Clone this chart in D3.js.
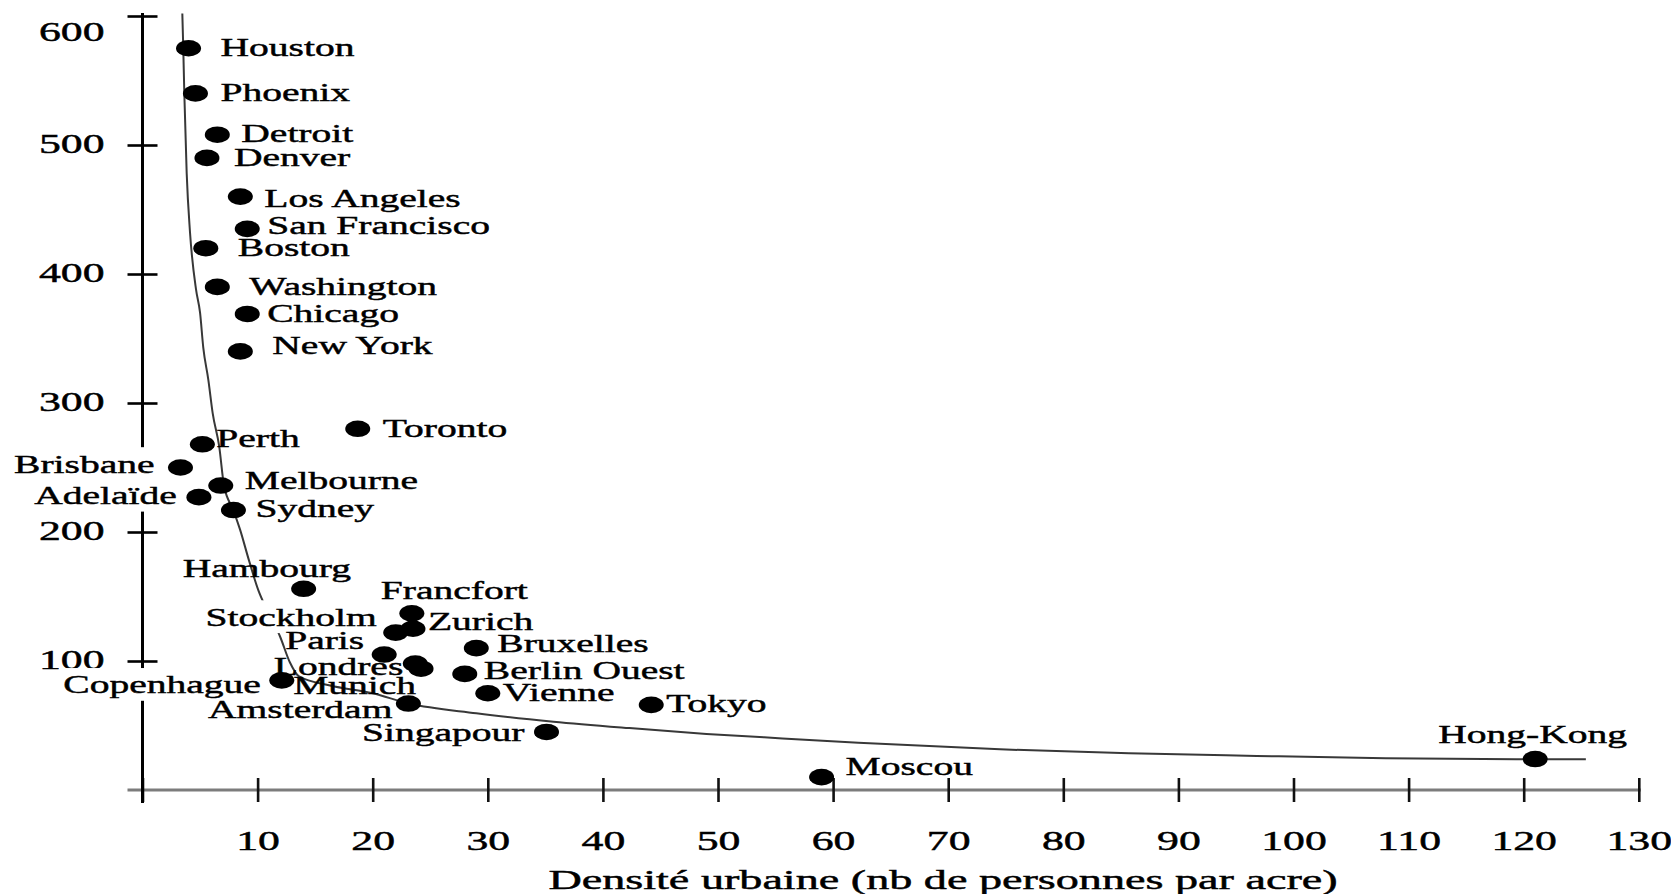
<!DOCTYPE html>
<html>
<head>
<meta charset="utf-8">
<script src="https://cdn.jsdelivr.net/npm/d3@7"></script>
<style>
  html, body { margin: 0; padding: 0; background: #fff; }
  svg { display: block; }
</style>
</head>
<body>
<svg id="chart" width="1671" height="894"></svg>
<script>
// Cities and their values: urban density (persons per acre) vs. consumption
const cities = ["Houston", "Phoenix", "Detroit", "Denver", "Los Angeles", "San Francisco",
  "Boston", "Washington", "Chicago", "New York", "Toronto", "Perth", "Brisbane",
  "Melbourne", "Adelaïde", "Sydney", "Hambourg", "Francfort", "Stockholm", "Zurich",
  "Paris", "Bruxelles", "Londres", "Berlin Ouest", "Copenhague", "Munich", "Vienne",
  "Amsterdam", "Tokyo", "Singapour", "Moscou", "Hong-Kong"];
const density = [4.0, 4.6, 6.5, 5.6, 8.5, 9.1, 5.5, 6.5, 9.1, 8.5, 18.7, 5.2, 3.3,
  6.8, 4.9, 7.9, 14.0, 23.4, 22.0, 23.5, 21.0, 29.0, 23.7, 28.0, 12.1, 24.2, 30.0,
  23.1, 44.2, 35.1, 59.0, 121.0];
const consumption = [575, 540, 508, 490, 460, 435, 420, 390, 369, 340, 280, 268, 250,
  236, 227, 217, 156, 137, 122, 125, 105, 110, 98, 90, 85, 94, 75, 67, 66, 45, 10, 24];

// Trend curve traced through the cloud
const trendDensity = [3.46, 3.54, 3.63, 3.84, 4.13, 4.65, 5.0, 5.28, 5.72, 6.10, 6.67,
  7.08, 7.89, 8.47, 9.25, 10.06, 10.79, 11.95, 12.8, 13.6, 16.3, 20.0, 23.15, 29.0,
  35.7, 42.3, 49.0, 55.6, 62.2, 74.5, 85.7, 96.8, 108.0, 121.0, 125.4];
const trendConsumption = [602, 576, 541, 478, 432, 388, 370, 343, 318, 292, 266, 236,
  217, 202, 178, 155, 140, 119, 99, 88, 81, 75, 67, 59.5, 53, 48, 43.5, 40, 36.7,
  31.5, 28.4, 26.4, 24.6, 23.8, 23.8];

// Axis ticks
const xTickValues = [0, 10, 20, 30, 40, 50, 60, 70, 80, 90, 100, 110, 120, 130];
const xTickLabels = ["", "10", "20", "30", "40", "50", "60", "70", "80", "90", "100", "110", "120", "130"];
const yTickValues = [100, 200, 300, 400, 500, 600];
const yTickLabels = ["100", "200", "300", "400", "500", "600"];
const xTitle = "Densité urbaine (nb de personnes par acre)";

// ---- layout ----
const FONT = "'Liberation Serif', 'Times New Roman', serif";
const SX_LABEL = 1.52, SX_TICK = 1.62, SX_TITLE = 1.71;
const TEXT_WEIGHT = 0.45; // outline that thickens the glyphs slightly

// label placement relative to each dot: [dx, dy, anchor]
const labelPlacement = {
  "Houston": [32, 0, "start"], "Phoenix": [25, 0, "start"], "Detroit": [24, -1, "start"],
  "Denver": [27, 0, "start"], "Los Angeles": [24, 2, "start"], "San Francisco": [20, -3, "start"],
  "Boston": [32, 0, "start"], "Washington": [32, 0, "start"], "Chicago": [20, 0, "start"],
  "New York": [32, -5, "start"], "Toronto": [25, 0, "start"], "Perth": [14, -5, "start"],
  "Brisbane": [-26, -3, "end"], "Melbourne": [24, -5, "start"], "Adelaïde": [-22, -1, "end"],
  "Sydney": [22, -1, "start"], "Hambourg": [-121, -20, "start"], "Francfort": [-31, -22, "start"],
  "Stockholm": [-19, -15, "end"], "Zurich": [15, -7, "start"], "Paris": [-20, -14, "end"],
  "Bruxelles": [21, -4, "start"], "Londres": [-12, 3, "end"], "Berlin Ouest": [19, -3, "start"],
  "Copenhague": [-21, 5, "end"], "Munich": [-5, 17, "end"], "Vienne": [15, 0, "start"],
  "Amsterdam": [-16, 6, "end"], "Tokyo": [15, -1, "start"], "Singapour": [-22, 1, "end"],
  "Moscou": [24, -10, "start"], "Hong-Kong": [-97, -24, "start"]
};
// labels drawn on an opaque backing
const backedLabels = new Set(["Brisbane", "Adelaïde", "Copenhague", "Stockholm"]);

const svg = d3.select("#chart");
svg.append("rect").attr("width", 1671).attr("height", 894).attr("fill", "#fff");

const x = d3.scaleLinear().domain([0, 130]).range([142.5, 1638.8]);
const y = d3.scaleLinear().domain([0, 600]).range([790, 16]);

function styleText(sel, size) {
  sel.attr("fill", "#000")
    .attr("stroke", "#000")
    .attr("stroke-width", TEXT_WEIGHT)
    .style("font-family", FONT)
    .style("font-size", size + "px");
}

// x axis
svg.append("line")
  .attr("x1", x(0) - 15).attr("x2", x(130) + 2)
  .attr("y1", y(0)).attr("y2", y(0))
  .attr("stroke", "#7c7c7c").attr("stroke-width", 3);

const gx = svg.append("g")
  .attr("transform", `translate(0,${y(0)})`)
  .call(d3.axisBottom(x).tickValues(xTickValues)
    .tickFormat((d, i) => xTickLabels[i]).tickSize(12));
gx.select(".domain").remove();
gx.selectAll(".tick line")
  .attr("y1", -12).attr("y2", 12)
  .attr("stroke", "#111").attr("stroke-width", 2.6);
gx.selectAll(".tick text")
  .attr("y", null).attr("dy", null)
  .attr("transform", `translate(0,60) scale(${SX_TICK},1)`)
  .call(styleText, 27);
gx.attr("font-size", null).attr("font-family", null);

// y axis
svg.append("line")
  .attr("x1", x(0)).attr("x2", x(0))
  .attr("y1", y(600) - 3).attr("y2", y(0) + 13)
  .attr("stroke", "#000").attr("stroke-width", 3);

const gy = svg.append("g")
  .attr("transform", `translate(${x(0)},0)`)
  .call(d3.axisLeft(y).tickValues(yTickValues)
    .tickFormat((d, i) => yTickLabels[i]).tickSize(15));
gy.select(".domain").remove();
gy.selectAll(".tick line")
  .attr("x1", -15).attr("x2", 15)
  .attr("stroke", "#000").attr("stroke-width", 2.6);
gy.selectAll(".tick text")
  .attr("x", null).attr("dy", null)
  .attr("text-anchor", "end")
  .attr("transform", d => {
    const off = Math.max(7, 40 - y(d));
    return `translate(-38,${off}) scale(${SX_TICK},1)`;
  })
  .call(styleText, 27);
gy.attr("font-size", null).attr("font-family", null);

// axis title
svg.append("text")
  .attr("text-anchor", "middle")
  .attr("transform", `translate(943,889) scale(${SX_TITLE},1)`)
  .call(styleText, 27)
  .text(xTitle);

// trend curve
const points = trendDensity.map((d, i) => [d, trendConsumption[i]]);
svg.append("path")
  .datum(points)
  .attr("fill", "none")
  .attr("stroke", "#383838")
  .attr("stroke-width", 2)
  .attr("d", d3.line().x(d => x(d[0])).y(d => y(d[1])).curve(d3.curveMonotoneX));

// city labels
const rows = cities.map((c, i) => ({ city: c, dx: density[i], dy: consumption[i] }));
const labels = svg.append("g");
rows.forEach(r => {
  const [ox, oy, anchor] = labelPlacement[r.city];
  const g = labels.append("g")
    .attr("transform", `translate(${x(r.dx) + ox},${y(r.dy) + oy + 8}) scale(${SX_LABEL},1)`);
  const t = g.append("text")
    .attr("text-anchor", anchor)
    .call(styleText, 26)
    .text(r.city);
  if (backedLabels.has(r.city)) {
    const b = t.node().getBBox();
    g.insert("rect", "text")
      .attr("x", b.x - 4 / SX_LABEL).attr("y", b.y - 2)
      .attr("width", b.width + 8 / SX_LABEL).attr("height", b.height + 4)
      .attr("fill", "#fff");
  }
});

// dots
svg.append("g").selectAll("ellipse")
  .data(rows)
  .join("ellipse")
  .attr("cx", d => x(d.dx))
  .attr("cy", d => y(d.dy))
  .attr("rx", 12.5)
  .attr("ry", 8.3)
  .attr("fill", "#000");
</script>
</body>
</html>
